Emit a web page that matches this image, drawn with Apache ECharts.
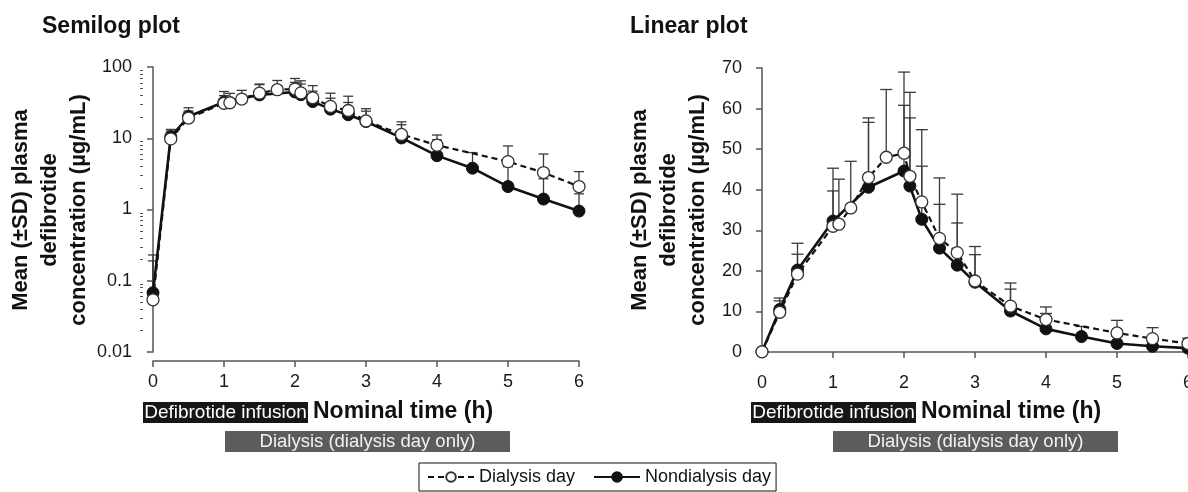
<!DOCTYPE html>
<html>
<head>
<meta charset="utf-8">
<script src="https://cdn.jsdelivr.net/npm/echarts@6/dist/echarts.min.js"></script>
<style>
  html, body { margin: 0; padding: 0; background: #fff; }
  #chart { width: 1188px; height: 492px; }
</style>
</head>
<body>
<div id="chart"></div>
<script>
// sampling times (h) and means / upper SD ends (µg/mL)
const timeDialysis = [0, 0.25, 0.5, 1, 1.083, 1.25, 1.5, 1.75, 2, 2.083, 2.25, 2.5, 2.75, 3, 3.5, 4, 5, 5.5, 6];
const meanDialysis = [0.054, 9.8, 19.2, 31.0, 31.5, 35.5, 43.0, 48.0, 49.0, 43.3, 37.0, 28.0, 24.5, 17.5, 11.3, 8.0, 4.7, 3.3, 2.1];
const sdTopDialysis = [0.19, 12.6, 24.1, 39.7, 42.6, 47.0, 57.7, 64.7, 69.0, 64.0, 54.8, 42.9, 38.9, 26.0, 17.0, 11.1, 7.8, 6.0, 3.4];

const timeNondialysis = [0, 0.25, 0.5, 1, 1.5, 2, 2.083, 2.25, 2.5, 2.75, 3, 3.5, 4, 4.5, 5, 5.5, 6];
const meanNondialysis = [0.068, 10.5, 20.2, 32.3, 40.6, 44.6, 40.9, 32.7, 25.6, 21.4, 17.2, 10.1, 5.7, 3.8, 2.1, 1.4, 0.95];
const sdTopNondialysis = [0.23, 13.3, 26.8, 45.3, 56.6, 60.8, 57.7, 45.8, 36.4, 31.8, 24.0, 15.5, 9.5, 6.3, 4.0, 2.7, 1.66];

const logMajorTicks = [0.01, 0.1, 1, 10, 100];
const logMinorTicks = [];
for (let d = 0; d < 4; d++) {
  for (let k = 2; k <= 9; k++) logMinorTicks.push(k * logMajorTicks[d]);
}

const FONT = 'Liberation Sans, Arial, sans-serif';
const AXIS_COLOR = '#555';

const pairs = (ts, vs) => ts.map((t, i) => [t, vs[i]]);
const triples = (ts, vs, tops) => ts.map((t, i) => [t, vs[i], tops[i]]);

function errorBar(capHalf) {
  return function (params, api) {
    const x = api.value(0);
    const p0 = api.coord([x, api.value(1)]);
    const p1 = api.coord([x, api.value(2)]);
    const style = { stroke: '#3a3a3a', lineWidth: 1.3 };
    return {
      type: 'group',
      children: [
        { type: 'line', shape: { x1: p0[0], y1: p0[1], x2: p1[0], y2: p1[1] }, style },
        { type: 'line', shape: { x1: p1[0] - capHalf, y1: p1[1], x2: p1[0] + capHalf, y2: p1[1] }, style }
      ]
    };
  };
}

function lineSeries(name, xi, yi, data, dialysis) {
  return {
    name: name,
    type: 'line',
    xAxisIndex: xi,
    yAxisIndex: yi,
    data: data,
    z: dialysis ? 4 : 3,
    symbol: 'circle',
    symbolSize: 12,
    clip: false,
    lineStyle: dialysis
      ? { color: '#111', width: 2.2, type: [6, 4] }
      : { color: '#111', width: 2.6 },
    itemStyle: dialysis
      ? { color: '#fff', borderColor: '#333', borderWidth: 1.3 }
      : { color: '#111', borderColor: '#111', borderWidth: 1 },
    emphasis: { disabled: true },
    animation: false
  };
}

function errSeries(name, xi, yi, data, capHalf) {
  return {
    name: name,
    type: 'custom',
    xAxisIndex: xi,
    yAxisIndex: yi,
    z: 1,
    clip: false,
    renderItem: errorBar(capHalf),
    encode: { x: 0, y: [1, 2] },
    data: data,
    animation: false
  };
}

const xAxisBase = {
  type: 'value',
  min: 0,
  max: 6,
  interval: 1,
  axisLine: { show: true, lineStyle: { color: AXIS_COLOR, width: 1.5 } },
  axisTick: { show: true, inside: false, length: 6, lineStyle: { color: AXIS_COLOR, width: 1.5 } },
  axisLabel: { color: '#1a1a1a', fontSize: 18, fontFamily: FONT, margin: 12, hideOverlap: false },
  splitLine: { show: false }
};

const dividers = (x0) => [
  {
    type: 'rect',
    shape: { x: x0, y: 402, width: 165, height: 21 },
    style: { fill: '#161616' }
  },
  {
    type: 'text',
    x: x0 + 82.5, y: 412.5,
    style: { text: 'Defibrotide infusion', fill: '#fff', font: '19px ' + FONT, align: 'center', verticalAlign: 'middle' }
  },
  {
    type: 'text',
    x: x0 + 170, y: 412,
    style: { text: 'Nominal time (h)', fill: '#111', font: 'bold 23px ' + FONT, align: 'left', verticalAlign: 'middle' }
  },
  {
    type: 'rect',
    shape: { x: x0 + 82, y: 431, width: 285, height: 21 },
    style: { fill: '#5c5c5c' }
  },
  {
    type: 'text',
    x: x0 + 224.5, y: 441.5,
    style: { text: 'Dialysis (dialysis day only)', fill: '#f2f2f2', font: '18.5px ' + FONT, align: 'center', verticalAlign: 'middle' }
  }
];

const yName = (x) => ({
  type: 'text',
  x: x, y: 210,
  rotation: Math.PI / 2,
  style: {
    text: 'Mean (±SD) plasma\ndefibrotide\nconcentration (µg/mL)',
    fill: '#111',
    font: 'bold 22px ' + FONT,
    align: 'center',
    verticalAlign: 'middle',
    lineHeight: 29
  }
});

const option = {
  backgroundColor: '#fff',
  animation: false,
  grid: [
    { left: 153, top: 67, width: 426, height: 285, outerBoundsMode: 'none', containLabel: false },
    { left: 762, top: 68, width: 426, height: 284, outerBoundsMode: 'none', containLabel: false }
  ],
  xAxis: [
    Object.assign({}, xAxisBase, { gridIndex: 0, offset: 9 }),
    Object.assign({}, xAxisBase, { gridIndex: 1, offset: 10 })
  ],
  yAxis: [
    {
      type: 'log',
      logBase: 10,
      gridIndex: 0,
      position: 'left',
      min: 0.01,
      max: 100,
      offset: 10,
      axisLine: { show: true, lineStyle: { color: AXIS_COLOR, width: 1.5 } },
      axisTick: { show: true, length: 6, customValues: logMajorTicks, lineStyle: { color: AXIS_COLOR, width: 1.5 } },
      axisLabel: {
        color: '#1a1a1a', fontSize: 18, fontFamily: FONT, margin: 11,
        customValues: logMajorTicks,
        formatter: (v) => {
          const e = Math.round(Math.log10(v));
          return e < 0 ? v.toFixed(-e) : String(Math.round(v));
        }
      },
      splitLine: { show: false }
    },
    {
      type: 'value',
      gridIndex: 1,
      position: 'left',
      min: 0,
      max: 70,
      interval: 10,
      offset: 9,
      axisLine: { show: true, lineStyle: { color: AXIS_COLOR, width: 1.5 } },
      axisTick: { show: true, length: 6, lineStyle: { color: AXIS_COLOR, width: 1.5 } },
      axisLabel: { color: '#1a1a1a', fontSize: 18, fontFamily: FONT, margin: 11 },
      splitLine: { show: false }
    },
    {
      // minor ticks of the log axis
      type: 'log',
      logBase: 10,
      gridIndex: 0,
      position: 'left',
      min: 0.01,
      max: 100,
      offset: 10,
      axisLine: { show: false },
      axisTick: { show: true, length: 3, customValues: logMinorTicks, lineStyle: { color: AXIS_COLOR, width: 1 } },
      axisLabel: { show: false },
      splitLine: { show: false }
    }
  ],
  legend: {
    left: 419,
    top: 463,
    orient: 'horizontal',
    data: ['Dialysis day', 'Nondialysis day'],
    itemWidth: 46,
    itemHeight: 12,
    itemGap: 18,
    padding: [5, 5, 5, 8],
    borderColor: '#111',
    borderWidth: 1,
    selectedMode: false,
    textStyle: { fontSize: 18, color: '#111', fontFamily: FONT }
  },
  graphic: [
    { type: 'text', x: 42, y: 27, style: { text: 'Semilog plot', fill: '#111', font: 'bold 23px ' + FONT, verticalAlign: 'middle' } },
    { type: 'text', x: 630, y: 27, style: { text: 'Linear plot', fill: '#111', font: 'bold 23px ' + FONT, verticalAlign: 'middle' } },
    yName(50),
    yName(669)
  ].concat(dividers(143), dividers(751)),
  series: [
    errSeries('sd-nd-log', 0, 0, triples(timeNondialysis, meanNondialysis, sdTopNondialysis), 5),
    errSeries('sd-d-log', 0, 0, triples(timeDialysis, meanDialysis, sdTopDialysis), 5),
    lineSeries('Nondialysis day', 0, 0, pairs(timeNondialysis, meanNondialysis), false),
    lineSeries('Dialysis day', 0, 0, pairs(timeDialysis, meanDialysis), true),
    errSeries('sd-nd-lin', 1, 1, triples(timeNondialysis, meanNondialysis, sdTopNondialysis), 6),
    errSeries('sd-d-lin', 1, 1, triples(timeDialysis, meanDialysis, sdTopDialysis), 6),
    lineSeries('Nondialysis day', 1, 1, pairs(timeNondialysis, meanNondialysis), false),
    lineSeries('Dialysis day', 1, 1, pairs(timeDialysis, meanDialysis), true)
  ]
};

const chart = echarts.init(document.getElementById('chart'));
chart.setOption(option);
window.addEventListener('resize', () => {
  chart.resize();
});
</script>
</body>
</html>
